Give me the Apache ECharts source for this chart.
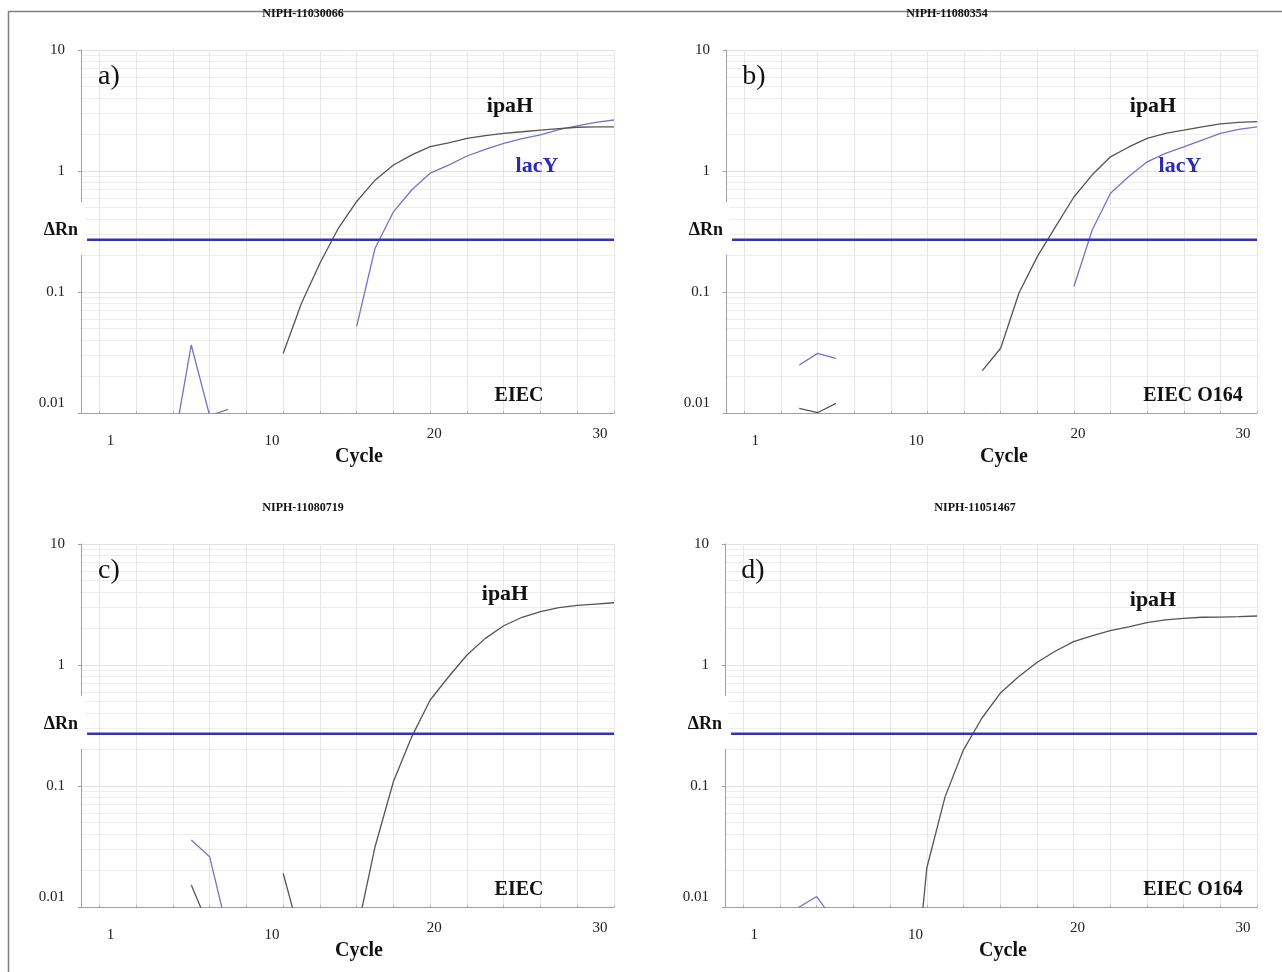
<!DOCTYPE html>
<html><head><meta charset="utf-8">
<script src="https://cdn.jsdelivr.net/npm/echarts@6/dist/echarts.min.js"></script>
<style>html,body{margin:0;padding:0;background:#fff}#c{width:1282px;height:972px}</style>
</head><body><div id="c"></div>
<script>
// ---------- data ----------
const cycles = Array.from({length: 30}, (_, i) => i + 1);
const xTickLabels = [1, 10, 20, 30];
const yTickValues = [0.01, 0.1, 1, 10];
const threshold = 0.27;
const panelTitles = ['NIPH-11030066', 'NIPH-11080354', 'NIPH-11080719', 'NIPH-11051467'];
const panelLetters = ['a)', 'b)', 'c)', 'd)'];
const strainLabels = ['EIEC', 'EIEC O164', 'EIEC', 'EIEC O164'];
const geneNames = ['ipaH', 'lacY'];
const yAxisName = 'ΔRn';
const xAxisName = 'Cycle';
const _ = null;
//            1  2  3  4  5       6        7       8       9       10 11 12     13     14     15     16     17    18    19    20    21    22    23    24    25    26    27    28    29    30
const ipaH_a = [_, _, _, _, _,      _,       _,      _,      _,      _, _, 0.031, 0.081, 0.173, 0.336, 0.56,  0.84, 1.12, 1.36, 1.59, 1.71, 1.86, 1.96, 2.05, 2.11, 2.18, 2.24, 2.30, 2.32, 2.32];
const lacY_a = [_, _, _, _, _,      0.005,   0.0365, 0.0095, 0.0107, _, _, _,     _,     _,     _,     0.052, 0.23, 0.46, 0.70, 0.96, 1.12, 1.33, 1.51, 1.69, 1.85, 1.99, 2.20, 2.36, 2.52, 2.64];
const ipaH_b = [_, _, _, _, 0.0109, 0.01005, 0.012,  _,      _,      _, _, _,     _,     _,     0.0224,0.0343,0.098,0.196,0.347,0.61, 0.93, 1.31, 1.58, 1.86, 2.05, 2.18, 2.32, 2.45, 2.52, 2.56];
const lacY_b = [_, _, _, _, 0.0249, 0.0311,  0.0283, _,      _,      _, _, _,     _,     _,     _,     _,     _,    _,    _,    0.111,0.325,0.655,0.90, 1.19, 1.40, 1.58, 1.80, 2.05, 2.21, 2.32];
const ipaH_c = [_, _, _, _, _,      _,       0.0152, 0.0066, _,      _, _, 0.019, 0.0052,_,     _,     0.0061,0.0315,0.109,0.256,0.514,0.80,1.21, 1.66, 2.11, 2.48, 2.76, 2.98, 3.11, 3.19, 3.27];
const lacY_c = [_, _, _, _, _,      _,       0.0358, 0.026,  0.0061, _, _, _,     _,     _,     _,     _,     _,    _,    _,    _,    _,    _,    _,    _,    _,    _,    _,    _,    _,    _];
const ipaH_d = [_, _, _, _, _,      _,       _,      _,      _,      _, 0.00056, 0.021, 0.0817, 0.199, 0.363, 0.583, 0.80, 1.05, 1.30, 1.56, 1.74, 1.92, 2.07, 2.24, 2.36, 2.43, 2.48, 2.49, 2.51, 2.54];
const lacY_d = [_, _, _, _, 0.0099, 0.0122,  0.0075, _,      _,      _, _, _,     _,     _,     _,     _,     _,    _,    _,    _,    _,    _,    _,    _,    _,    _,    _,    _,    _,    _];
const ipaHSeries = [ipaH_a, ipaH_b, ipaH_c, ipaH_d];
const lacYSeries = [lacY_a, lacY_b, lacY_c, lacY_d];

// ---------- layout / style ----------
const SERIF = '"Liberation Serif", "DejaVu Serif", serif';
const grids = [
  {left: 81,  top: 50,  width: 533, height: 363},
  {left: 726, top: 50,  width: 531, height: 363},
  {left: 81,  top: 544, width: 533, height: 363},
  {left: 725, top: 544, width: 532, height: 363}
];
const titleCenters = [303, 947, 303, 975];
const gridXTicks = cycles.filter(c => c % 2 === 0);
const minorY = [];
[-2, -1, 0].forEach(d => { for (let k = 2; k <= 9; k++) minorY.push(d + Math.log10(k)); });

const xAxes = [], yAxes = [], series = [], graphics = [];
grids.forEach((g, i) => {
  xAxes.push({
    type: 'value', gridIndex: i, min: 1, max: 30, position: 'bottom',
    axisLine: {show: true, onZero: false, lineStyle: {color: '#a0a0a0', width: 1}},
    axisTick: {show: true, customValues: gridXTicks, length: 2, inside: true, lineStyle: {color: '#b0b0b0'}},
    axisLabel: {show: false},
    splitLine: {show: true, lineStyle: {color: '#e6e6e6', width: 1}}
  });
  xAxes.push({
    type: 'value', gridIndex: i, min: -0.986, max: 30.68, position: 'bottom',
    axisLine: {show: false, onZero: false}, axisTick: {show: false}, splitLine: {show: false},
    axisLabel: {
      show: true, customValues: xTickLabels, margin: 14,
      formatter: v => v === 1 ? '{one|1}' : (v < 15 ? '{lo|' + v + '}' : (v > 25 ? '{end|' + v + '}' : '{hi|' + v + '}')),
      rich: {
        one: {fontFamily: SERIF, fontSize: 15, color: '#222', padding: [7, 8, 0, 0]},
        lo: {fontFamily: SERIF, fontSize: 15, color: '#222', padding: [7, 0, 0, 12]},
        hi: {fontFamily: SERIF, fontSize: 15, color: '#222'},
        end: {fontFamily: SERIF, fontSize: 15, color: '#222', padding: [0, 5, 0, 0]}
      }
    }
  });
  yAxes.push({
    type: 'log', logBase: 10, gridIndex: i, min: 0.01, max: 10, position: 'left',
    axisLine: {show: true, onZero: false, lineStyle: {color: '#a0a0a0', width: 1}},
    axisTick: {show: true, length: 3, lineStyle: {color: '#a0a0a0'}},
    axisLabel: {
      show: true, margin: 16,
      formatter: v => v < 0.05 ? '{low|' + v + '}' : '{n|' + v + '}',
      rich: {
        low: {fontFamily: SERIF, fontSize: 15, color: '#222', padding: [0, 0, 20, 0]},
        n: {fontFamily: SERIF, fontSize: 15, color: '#222'}
      }
    },
    splitLine: {show: true, lineStyle: {color: '#e2e2e2', width: 1}}
  });
  yAxes.push({
    type: 'value', gridIndex: i, min: -2, max: 1, position: 'left',
    axisLine: {show: false, onZero: false}, axisLabel: {show: false},
    axisTick: {show: false, customValues: minorY},
    splitLine: {show: true, lineStyle: {color: '#ededed', width: 1}}
  });

  const line = (name, arr, color, w) => ({
    name, type: 'line', xAxisIndex: 2 * i, yAxisIndex: 2 * i,
    data: cycles.map((c, k) => [c, arr[k] == null ? '-' : arr[k]]),
    symbol: 'none', smooth: false, connectNulls: false, clip: true,
    lineStyle: {color, width: w}, z: 3, animation: false, silent: true
  });
  series.push(line('lacY', lacYSeries[i], '#7474c4', 1.3));
  series.push(line('ipaH', ipaHSeries[i], '#555555', 1.3));
  series.push({
    name: 'threshold', type: 'line', xAxisIndex: 2 * i, yAxisIndex: 2 * i,
    data: [[1.33, threshold], [30, threshold]], symbol: 'none',
    lineStyle: {color: '#3434b0', width: 2.6}, z: 4, animation: false, silent: true
  });

  const L = g.left, T = g.top, R = g.left + g.width, B = g.top + g.height;
  const txt = (text, x, y, size, opts) => Object.assign({
    type: 'text', x, y, silent: true, z: 101,
    style: Object.assign({text, font: (opts && opts.w || 'bold') + ' ' + size + 'px ' + SERIF,
      fill: '#111', align: 'center', verticalAlign: 'middle'}, (opts && opts.s) || {})
  });
  graphics.push(txt(panelTitles[i], titleCenters[i], T - 36, 12));
  graphics.push(txt(panelLetters[i], L + 28, T + 27, 28, {w: 'normal'}));
  const ipaHPos = i === 2 ? [R - 109, T + 50] : [R - 104, T + 56];
  graphics.push(txt(geneNames[0], ipaHPos[0], ipaHPos[1], 22));
  if (i < 2) graphics.push(txt(geneNames[1], R - 77, T + 116, 22, {s: {fill: '#2b2bb5'}}));
  graphics.push(txt(strainLabels[i], strainLabels[i].length > 5 ? R - 64 : R - 95, B - 17, 20));
  graphics.push(txt(xAxisName, L + 278, B + 44, 20));
  // gap in the value axis line behind the ΔRn label
  graphics.push({type: 'rect', silent: true, z: 100,
    shape: {x: L - 42, y: T + 152, width: 46, height: 53}, style: {fill: '#ffffff'}});
  graphics.push(txt(yAxisName, L - 3, T + 180, 18, {s: {align: 'right'}}));
});

graphics.push({type: 'rect', shape: {x: 8.5, y: 11.5, width: 1300, height: 1000},
  style: {fill: 'none', stroke: '#808080', lineWidth: 1.5}, silent: true, z: -1});

const chart = echarts.init(document.getElementById('c'), null, {renderer: 'canvas'});
chart.setOption({
  animation: false,
  backgroundColor: '#ffffff',
  grid: grids.map(g => Object.assign({containLabel: false, outerBoundsMode: 'none'}, g)),
  xAxis: xAxes, yAxis: yAxes, series, graphic: graphics
});
</script></body></html>
